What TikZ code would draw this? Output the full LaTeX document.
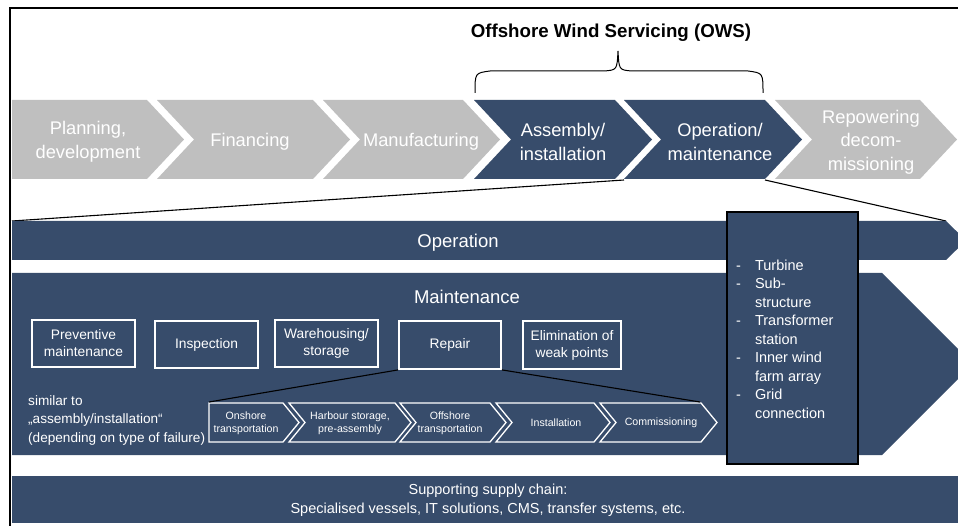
\documentclass[tikz,border=0pt]{standalone}
\usepackage{fontspec}
\setmainfont{Liberation Sans}
\definecolor{owsblue}{RGB}{55,76,107}
\definecolor{owsgray}{RGB}{191,191,191}

% #1 style, #2 left x, #3 top-right x, #4 top y, #5 bottom y, #6 point depth, #7 notch depth
\newcommand\chevshape[7]{%
  \path[#1] (#2,#4) -- (#3,#4) -- ({#3+#6},{(#4+#5)/2}) -- (#3,#5) -- (#2,#5)
    -- ({#2+#7},{(#4+#5)/2}) -- cycle;}

\begin{document}
\begin{tikzpicture}[x=1pt,y=-1pt,
  darkshape/.style={fill=owsblue},
  grayshape/.style={fill=owsgray},
  stagetext/.style={text=white,font=\fontsize{18.3}{23.5}\selectfont,align=center,inner sep=0},
  bartext/.style={text=white,font=\fontsize{18.5}{22}\selectfont,inner sep=0},
  taskbox/.style={draw=white,line width=1.8pt,text=white,font=\fontsize{13.8}{17}\selectfont,
    align=center,minimum width=103pt,minimum height=47pt,inner sep=0},
  stepshape/.style={draw=white,line width=1.3pt,fill=owsblue,line join=miter},
  steptext/.style={text=white,font=\fontsize{10.6}{12.8}\selectfont,align=center,inner sep=0},
  zoomline/.style={draw=black,line width=1.1pt},
]
\useasboundingbox (0,0) rectangle (958,526);
\clip (0,0) rectangle (958,526);

% title and brace
\node[font=\bfseries\fontsize{18.7}{22}\selectfont,inner sep=0] (title) at (611,33)
  {Offshore Wind Servicing (OWS)};
\coordinate (braceL) at (475,93);
\coordinate (braceR) at (763,93);
\coordinate (braceTip) at (618,51);
\draw[line width=1pt] (braceL) .. controls (475,73) .. (490,71) -- (604,71)
  .. controls (617,70) .. (braceTip)
  .. controls (619,70) .. (632,71) -- (748,71) .. controls (763,73) .. (braceR);

% value chain stages
\chevshape{grayshape}{12}{147}{100}{179}{37}{0}
\chevshape{grayshape}{157}{313}{100}{179}{37}{37}
\chevshape{grayshape}{323}{463}{100}{179}{37}{37}
\chevshape{darkshape}{474}{615}{100}{179}{37}{37}
\chevshape{darkshape}{624}{765}{100}{179}{37}{37}
\chevshape{grayshape}{775}{920}{100}{179}{37}{37}
\node[stagetext] (plan) at (88,142) {Planning,\\development};
\node[stagetext] (fin) at (250,142) {Financing};
\node[stagetext] (manu) at (421,142) {Manufacturing};
\node[stagetext] (assy) at (563,142) {Assembly/\\installation};
\node[stagetext] (om) at (720,142) {Operation/\\maintenance};
\node[stagetext] (repow) at (871,142) {Repowering\\decom-\\missioning};

% zoom-in lines from the O&M stage
\coordinate (omBL) at (624,180);
\coordinate (omBR) at (765,180);
\coordinate (opTL) at (12,221);
\coordinate (opTR) at (946,221);
\draw[zoomline] (omBL) -- (opTL);
\draw[zoomline] (omBR) -- (opTR);

% operation bar
\path[darkshape] (12,221) -- (946,221) -- (966,240.5) -- (946,260) -- (12,260) -- cycle;
\node[bartext] (oper) at (458,243) {Operation};

% maintenance arrow
\path[darkshape] (12,273) -- (882,273) -- (973,364) -- (882,455) -- (12,455) -- cycle;
\node[bartext] (maint) at (467,297) {Maintenance};

% components box
\draw[fill=owsblue,draw=black,line width=1.2pt] (727,212) rectangle (858,464);
\node[anchor=north west,inner sep=0,text=white,font=\fontsize{14.5}{18.5}\selectfont]
  (parts) at (736,257) {\begin{tabular}{@{}l@{\hspace{14pt}}l@{}}
  -&Turbine\\ -&Sub-\\ &structure\\ -&Transformer\\ &station\\
  -&Inner wind\\ &farm array\\ -&Grid\\ &connection\end{tabular}};

% maintenance tasks
\node[taskbox] (prev) at (83.5,343.5) {Preventive\\maintenance};
\node[taskbox] (insp) at (206.5,344.5) {Inspection};
\node[taskbox] (ware) at (326.5,343.5) {Warehousing/\\storage};
\node[taskbox,minimum width=102pt,minimum height=48pt] (repair) at (450,345) {Repair};
\node[taskbox,minimum width=98pt,minimum height=48pt] (elim) at (572,345) {Elimination of\\weak points};

\node[anchor=west,inner sep=0,text=white,align=left,font=\fontsize{13.6}{18.5}\selectfont]
  (note) at (28,420) {similar to\\„assembly/installation“\\(depending on type of failure)};

% repair process steps
\chevshape{stepshape}{209}{283}{403}{442}{16}{0}
\chevshape{stepshape}{289}{395}{403}{442}{16}{16}
\chevshape{stepshape}{400}{490}{403}{442}{16}{16}
\chevshape{stepshape}{496}{594}{403}{442}{16}{16}
\chevshape{stepshape}{600}{701}{403}{442}{16}{16}
\node[steptext] (s1) at (246,423) {Onshore\\transportation};
\node[steptext] (s2) at (350,423) {Harbour storage,\\pre-assembly};
\node[steptext] (s3) at (450,423) {Offshore\\transportation};
\node[steptext] (s4) at (556,423) {Installation};
\node[steptext] (s5) at (661,423) {Commissioning};
\coordinate (stepsTL) at (209,402);
\coordinate (stepsTR) at (700,402);
\draw[zoomline] (repair.south west) -- (stepsTL);
\draw[zoomline] (repair.south east) -- (stepsTR);

% supporting supply chain
\path[darkshape] (12,476) rectangle (958,523);
\node[text=white,align=center,inner sep=0,font=\fontsize{14.5}{19}\selectfont] (supply) at (488,500.5)
  {Supporting supply chain:\\Specialised vessels, IT solutions, CMS, transfer systems, etc.};

% frame
\draw[line width=2.6pt,line cap=rect] (10,526) -- (10,8) -- (958,8);
\end{tikzpicture}
\end{document}
